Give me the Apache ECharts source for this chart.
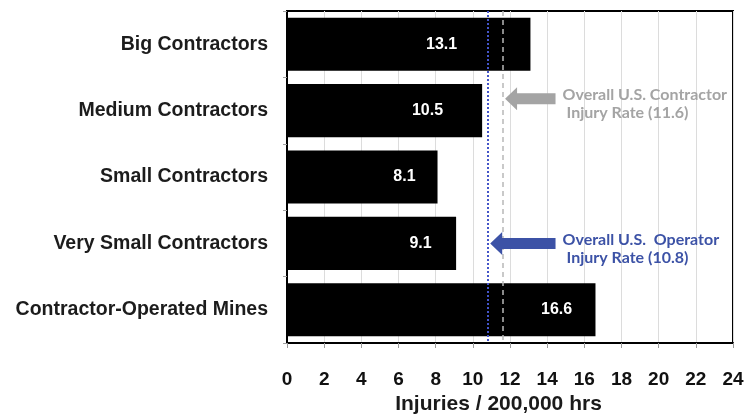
<!DOCTYPE html>
<html>
<head>
<meta charset="utf-8">
<title>Injury rates by contractor size</title>
<script src="https://cdn.jsdelivr.net/npm/echarts@6/dist/echarts.min.js"></script>
<style>
  html, body { margin: 0; padding: 0; background: #ffffff; }
  #chart { width: 745px; height: 414px; }
</style>
</head>
<body>
<div id="chart"></div>
<script>
// Injuries per 200,000 hours worked, by contractor size
const categories = [
  'Big Contractors',
  'Medium Contractors',
  'Small Contractors',
  'Very Small Contractors',
  'Contractor-Operated Mines'
];
const injuryRates = [13.1, 10.5, 8.1, 9.1, 16.6];

// Value axis ticks
const axisMin = 0;
const axisMax = 24;
const axisStep = 2;

// National reference rates
const contractorRate = 11.6;
const operatorRate = 10.8;

// Layout of the value labels inside each bar (fraction of bar length)
const labelAt = ['63.5%', '72%', '78%', '79%', '87.4%'];

// Callout styling / placement
const callouts = [
  { rate: contractorRate, row: 0.82, color: '#a4a4a4',
    lines: ['Overall U.S. Contractor', 'Injury Rate (' + contractorRate.toFixed(1) + ')'] },
  { rate: operatorRate, row: 3.0, color: '#3c52a6',
    lines: ['Overall U.S.  Operator', 'Injury Rate (' + operatorRate.toFixed(1) + ')'] }
];
const arrowTailValue = 14.45;

const chart = echarts.init(document.getElementById('chart'), null, { renderer: 'canvas' });

const labelFont = '"Liberation Sans", Arial, sans-serif';
const calloutFont = 'Lato, "Open Sans", sans-serif';

const option = {
  backgroundColor: '#ffffff',
  animation: false,
  grid: {
    left: 287, right: 12, top: 11, bottom: 71,
    show: true, borderColor: '#000000', borderWidth: 2,
    backgroundColor: '#ffffff', containLabel: false,
    outerBoundsMode: 'none'
  },
  xAxis: {
    type: 'value',
    min: axisMin, max: axisMax, interval: axisStep,
    axisLine: { show: true, onZero: false, lineStyle: { color: '#000000', width: 2 } },
    axisTick: { show: true, length: 5, lineStyle: { color: '#9a9a9a', width: 1 } },
    axisLabel: {
      margin: 27, fontSize: 19, fontWeight: 'bold', color: '#111111',
      fontFamily: labelFont
    },
    splitLine: { show: true, lineStyle: { color: '#dcdcdc', width: 1 } },
    name: 'Injuries / 200,000 hrs',
    nameLocation: 'middle',
    nameGap: 49,
    nameTextStyle: {
      fontSize: 21, fontWeight: 'bold', color: '#1a1a1a',
      fontFamily: labelFont, padding: [0, 23, 0, 0]
    }
  },
  yAxis: [
    {
      type: 'category',
      inverse: true,
      data: categories,
      axisLine: { show: true, lineStyle: { color: '#000000', width: 2 } },
      axisTick: { show: true, length: 4, lineStyle: { color: '#a0a0a0' } },
      axisLabel: {
        margin: 19, fontSize: 19.5, fontWeight: 'bold', color: '#1c1c1c',
        fontFamily: labelFont
      },
      splitLine: { show: false }
    },
    {
      // continuous helper axis for placing the callouts between rows
      type: 'value', inverse: true, min: -0.5, max: 4.5, show: false
    }
  ],
  series: [
    {
      type: 'bar',
      barCategoryGap: '20%',
      itemStyle: { color: '#000000' },
      data: injuryRates.map((v, i) => ({
        value: v,
        label: { position: [labelAt[i], '50%'] }
      })),
      label: {
        show: true,
        align: 'center', verticalAlign: 'middle',
        color: '#ffffff', fontSize: 16, fontWeight: 'bold',
        fontFamily: labelFont,
        formatter: p => p.value.toFixed(1)
      },
      markLine: {
        silent: true,
        symbol: ['none', 'none'],
        label: { show: false },
        data: [
          { xAxis: contractorRate, lineStyle: { type: [5, 4], color: '#b8b8b8', width: 1.5 } },
          { xAxis: operatorRate, lineStyle: { type: [2, 2], color: '#4455c8', width: 2 } }
        ]
      },
      z: 2
    },
    {
      type: 'custom',
      yAxisIndex: 1,
      clip: false,
      silent: true,
      z: 5,
      data: callouts.map((c, i) => [c.rate, c.row, i]),
      renderItem: (params, api) => {
        const c = callouts[api.value(2)];
        const tip = api.coord([api.value(0), api.value(1)]);
        const tail = api.coord([arrowTailValue, api.value(1)]);
        const x0 = tip[0] + 2.5;
        const y = tip[1];
        const headLen = 12, headHalf = 11.5, shaftHalf = 5.5;
        const xt = tail[0];
        return {
          type: 'group',
          children: [
            {
              type: 'polygon',
              shape: {
                points: [
                  [x0, y],
                  [x0 + headLen, y - headHalf],
                  [x0 + headLen, y - shaftHalf],
                  [xt, y - shaftHalf],
                  [xt, y + shaftHalf],
                  [x0 + headLen, y + shaftHalf],
                  [x0 + headLen, y + headHalf]
                ]
              },
              style: { fill: c.color }
            },
            {
              type: 'text',
              x: xt + 7, y: y - 4,
              style: {
                text: c.lines[0], fill: c.color,
                font: 'bold 16px ' + calloutFont,
                verticalAlign: 'middle', align: 'left'
              }
            },
            {
              type: 'text',
              x: xt + 11, y: y + 14.5,
              style: {
                text: c.lines[1], fill: c.color,
                font: 'bold 16px ' + calloutFont,
                verticalAlign: 'middle', align: 'left'
              }
            }
          ]
        };
      }
    }
  ]
};

chart.setOption(option);
</script>
</body>
</html>
